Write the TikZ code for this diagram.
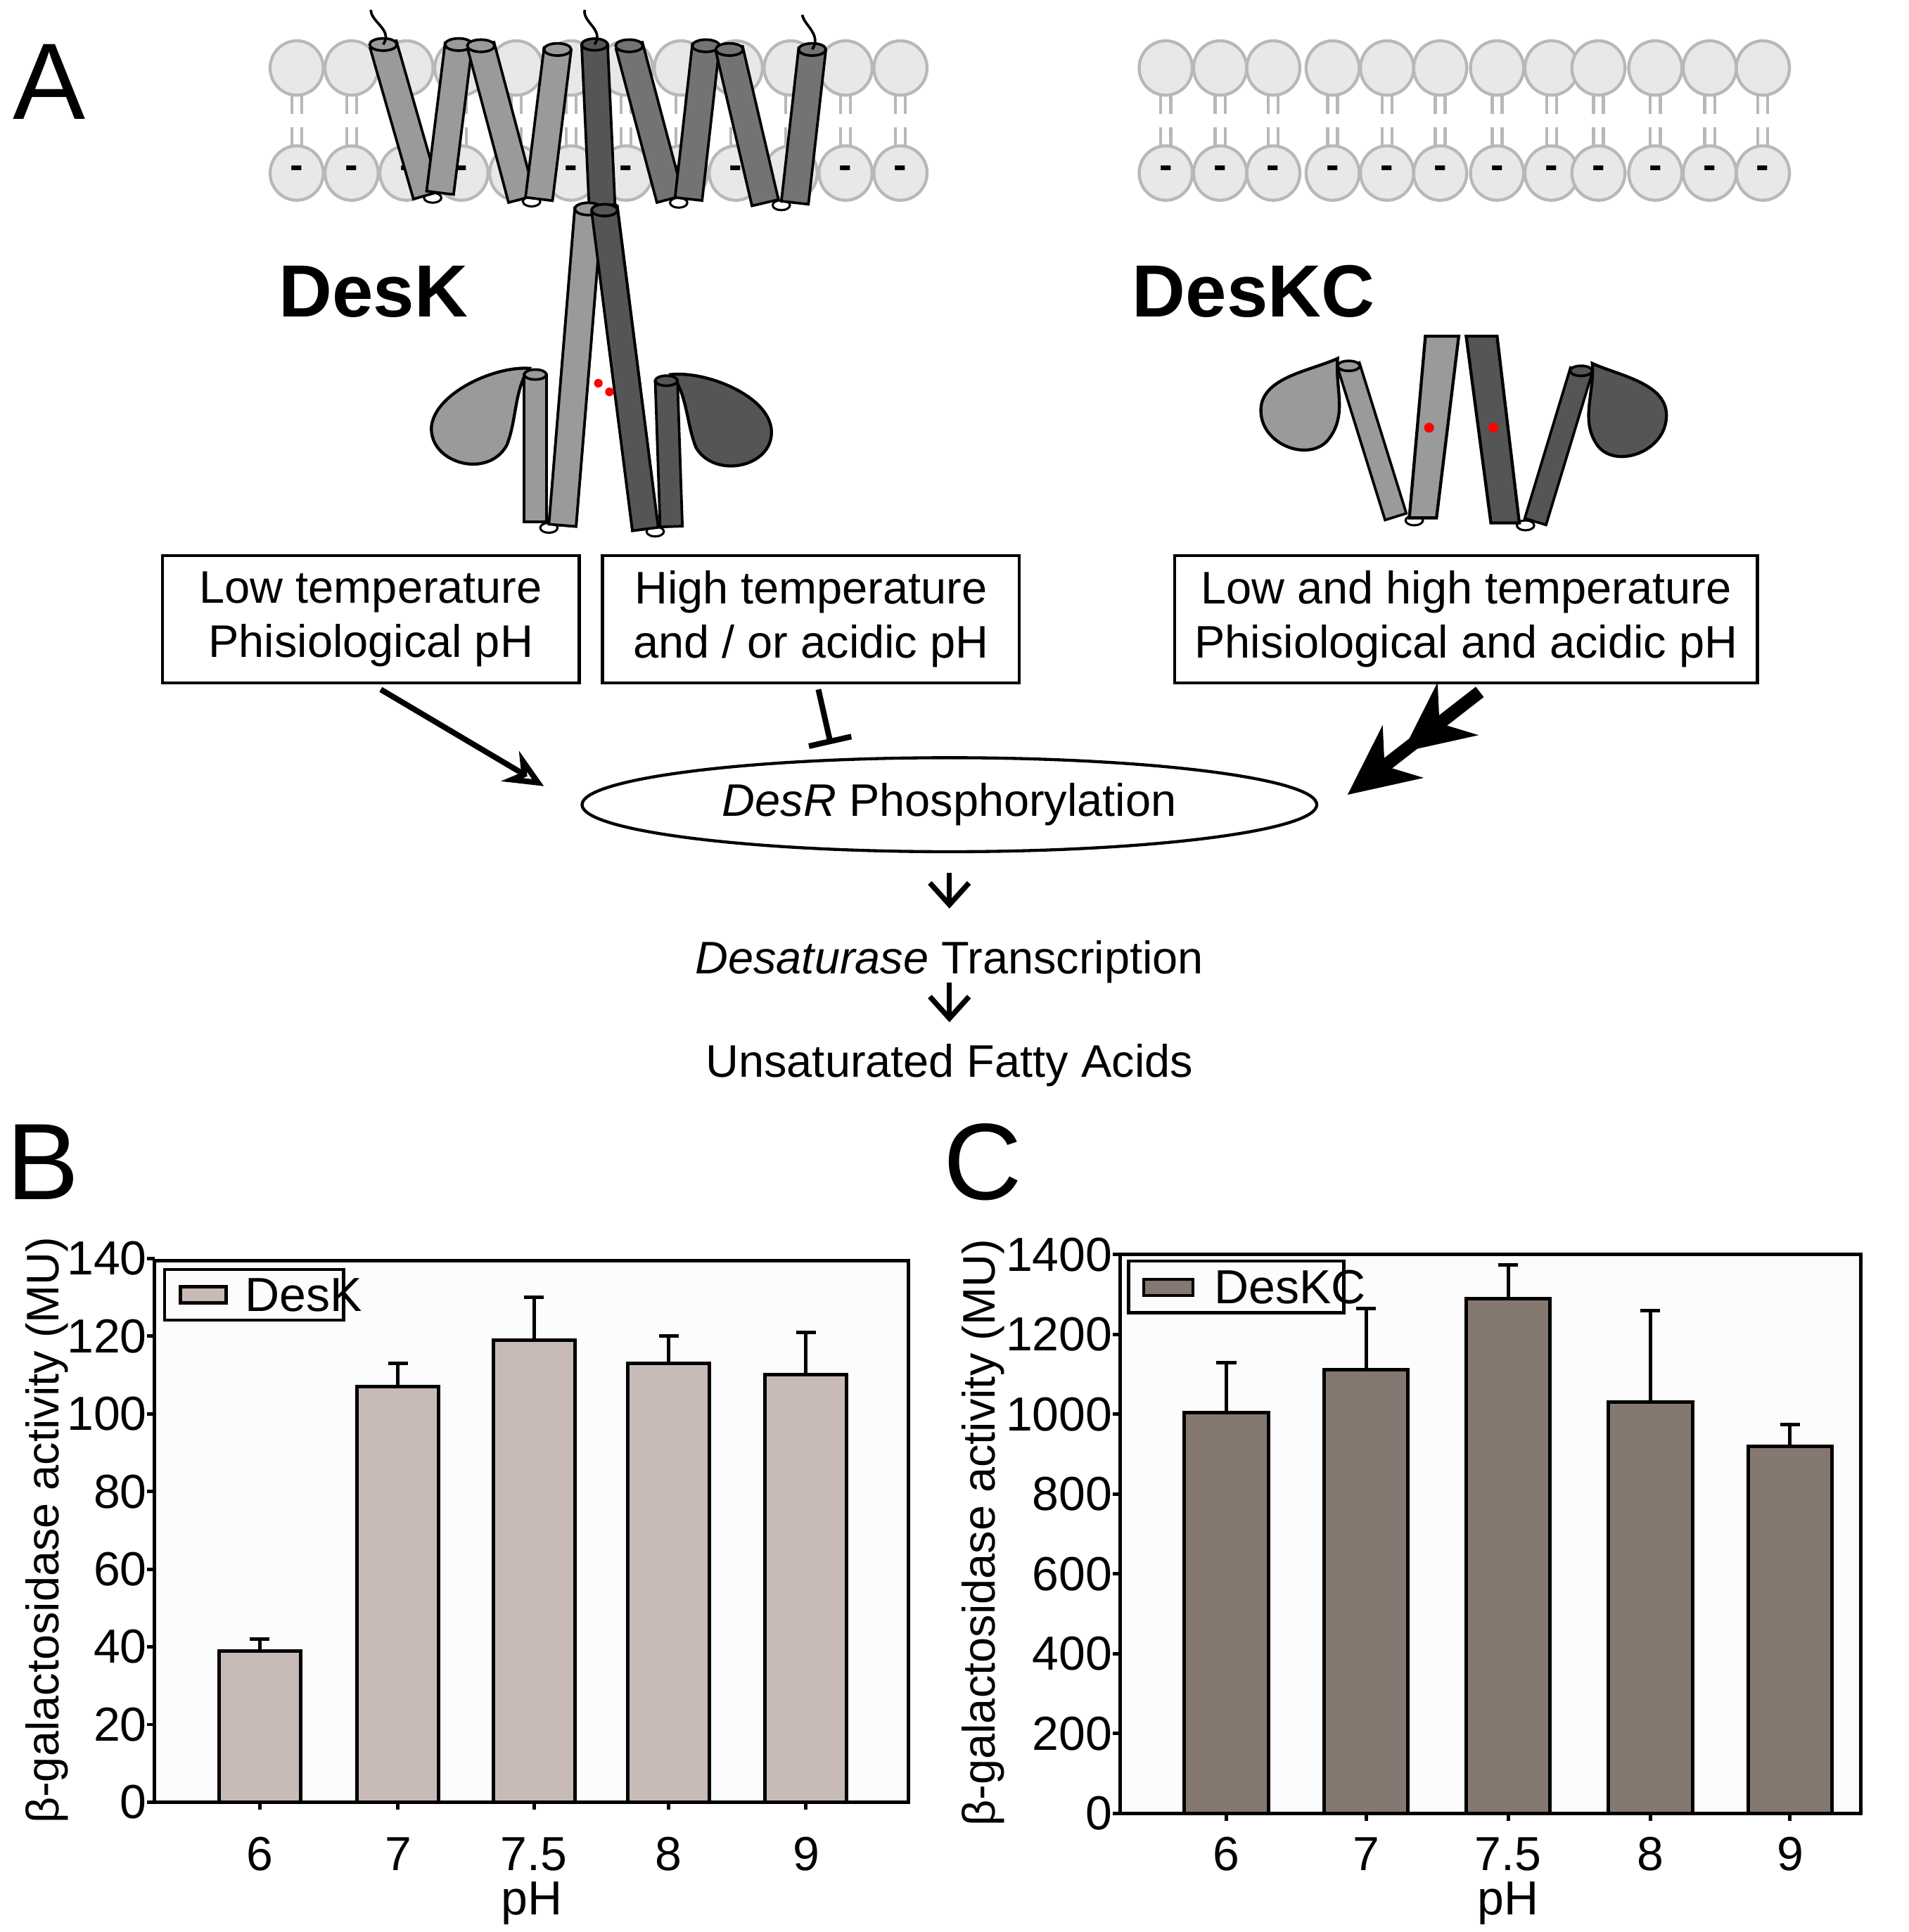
\documentclass[tikz,border=0pt]{standalone}
\usepackage{fontspec}
\setmainfont{Liberation Sans}
\usetikzlibrary{calc,arrows.meta,shapes.geometric}
\newcommand\hlx[6]{%
 \coordinate (hA) at (#1,#2); \coordinate (hB) at (#3,#4);
 \filldraw[fill=#6,draw=black,line width=0.6pt] ($(hA)!#5!90:(hB)$) -- ($(hA)!#5!-90:(hB)$) -- ($(hB)!#5!90:(hA)$) -- ($(hB)!#5!-90:(hA)$) -- cycle;
 \filldraw[fill=#6,draw=black,line width=0.6pt] (hA) ellipse [x radius=#5, y radius=0.45*#5];}
\newcommand\loopb[2]{\filldraw[fill=white,draw=black,line width=0.5pt] (#1,#2) ellipse [x radius=7, y radius=4];}
\definecolor{hl}{HTML}{9A9A9A}
\definecolor{hm}{HTML}{737373}
\definecolor{hd}{HTML}{555555}
\definecolor{barB}{HTML}{C8BAB6}
\definecolor{barC}{HTML}{857870}
\tikzset{lipidhead/.style={fill=black!9,draw=black!28,line width=0.7pt},
 lipidtail/.style={draw=black!28,line width=0.7pt},
 condbox/.style={draw=black,line width=0.7pt,minimum width=3.37cm,minimum height=1.03cm,align=center,font=\fontsize{10.5}{12.5}\selectfont,inner sep=1pt},
 flowtxt/.style={font=\fontsize{10.5}{12}\selectfont},
 panel/.style={font=\fontsize{25}{25}\selectfont},
 tick/.style={font=\fontsize{11}{11}\selectfont},
 arr/.style={line width=1.3pt,-{Stealth[length=9pt,width=8pt,open,fill=none]}}}
\begin{document}
\begin{tikzpicture}[x=0.01cm,y=-0.01cm]
\useasboundingbox (0,0) rectangle (1544,1563);
% panel letters
\node[panel] (pA) at (40,66) {A};
\node[panel] (pB) at (35,940) {B};
\node[panel] (pC) at (795,940) {C};
% membranes
\foreach \x in {240,284.4,...,730}{
 \draw[lipidtail] (\x-4,77)--(\x-4,92) (\x+4,77)--(\x+4,92) (\x-4,103)--(\x-4,118) (\x+4,103)--(\x+4,118);
 \filldraw[lipidhead] (\x,55) ellipse [x radius=21.5, y radius=22];
 \filldraw[lipidhead] (\x,140) ellipse [x radius=21.5, y radius=22];
 \node[font=\bfseries\fontsize{9}{9}\selectfont] at (\x,139) {-};}
\foreach \x in {943,987,1030,1078,1122,1165,1211,1255,1293,1339,1383,1426}{
 \draw[lipidtail] (\x-4,77)--(\x-4,92) (\x+4,77)--(\x+4,92) (\x-4,103)--(\x-4,118) (\x+4,103)--(\x+4,118);
 \filldraw[lipidhead] (\x,55) ellipse [x radius=21.5, y radius=22];
 \filldraw[lipidhead] (\x,140) ellipse [x radius=21.5, y radius=22];
 \node[font=\bfseries\fontsize{9}{9}\selectfont] at (\x,139) {-};}
% DesK helices
\loopb{350}{160}\loopb{430}{163}\loopb{549}{164}\loopb{632}{166}
\hlx{310}{36}{345}{158}{0.11cm}{hl}
\hlx{371}{36}{356}{156}{0.11cm}{hl}
\hlx{389}{37}{422}{161}{0.11cm}{hl}
\hlx{451}{40}{436}{161}{0.11cm}{hl}
\hlx{476}{169}{455}{425}{0.11cm}{hl}
\hlx{509}{37}{542}{161}{0.11cm}{hm}
\hlx{571}{37}{557}{161}{0.11cm}{hm}
\hlx{590}{40}{619}{164}{0.11cm}{hm}
\hlx{657}{40}{643}{164}{0.11cm}{hm}
\hlx{489}{168}{522}{428}{0.105cm}{hd}
\hlx{481}{36}{487}{166}{0.105cm}{hd}
\draw[line width=0.6pt] (310,36) .. controls (318,24) and (300,18) .. (300,8);
\draw[line width=0.6pt] (481,36) .. controls (489,24) and (471,18) .. (473,8);
\draw[line width=0.6pt] (657,40) .. controls (665,28) and (650,20) .. (649,12);
% DesK cytoplasmic
\filldraw[fill=hl,line width=0.7pt] (428,298) .. controls (400,296) and (352,318) .. (349,345) .. controls (347,375) and (395,388) .. (410,360) .. controls (418,340) and (416,315) .. cycle;
\filldraw[fill=hd,line width=0.7pt] (543,303) .. controls (571,300) and (622,320) .. (624,348) .. controls (626,378) and (578,388) .. (563,362) .. controls (555,342) and (556,318) .. cycle;
\loopb{444}{427}\loopb{530}{430}
\hlx{433}{303}{433}{422}{0.09cm}{hl}
\hlx{539}{308}{543}{426}{0.09cm}{hd}
\hlx{476}{169}{455}{425}{0.11cm}{hl}
\hlx{489}{170}{522}{428}{0.105cm}{hd}
\fill[red] (484,310) circle (3.5) (493,317) circle (3.5);
\node[font=\bfseries\fontsize{17}{17}\selectfont] (desk) at (302,236) {DesK};
% DesKC
\node[font=\bfseries\fontsize{17}{17}\selectfont] (deskc) at (1014,236) {DesKC};
\filldraw[fill=hl,line width=0.7pt] (1082,290) .. controls (1060,300) and (1022,305) .. (1020,330) .. controls (1018,360) and (1060,375) .. (1075,355) .. controls (1090,335) and (1080,315) .. cycle;
\filldraw[fill=hd,line width=0.7pt] (1288,294) .. controls (1310,304) and (1348,310) .. (1348,336) .. controls (1348,366) and (1306,380) .. (1292,360) .. controls (1278,340) and (1290,318) .. cycle;
\loopb{1144}{421}\loopb{1234}{425}
\hlx{1091}{296}{1129}{418}{0.09cm}{hl}
\hlx{1279}{300}{1242}{422}{0.09cm}{hd}
\filldraw[fill=hl,line width=0.7pt] (1153,272)--(1180,272)--(1162,419)--(1140,419)--cycle;
\filldraw[fill=hd,line width=0.7pt] (1186,272)--(1211,272)--(1229,423)--(1206,423)--cycle;
\fill[red] (1156,346) circle (4) (1208,346) circle (4);
% boxes
\node[condbox] (b1) at (300,501) {Low temperature\\Phisiological pH};
\node[condbox] (b2) at (656,501) {High temperature\\and / or acidic pH};
\node[condbox,minimum width=4.71cm] (b3) at (1186,501) {Low and high temperature\\Phisiological and acidic pH};
\node[draw,ellipse,line width=0.7pt,minimum width=5.94cm,minimum height=0.76cm,flowtxt,inner sep=0pt] (er) at (768,651) {\textit{DesR} Phosphorylation};
\draw[arr] ($(b1.south)+(8,4)$) -- (440,636);
\draw[line width=1.3pt,-{Bar[width=10pt]}] ($(b2.south)+(6,4)$) -- (672,602);
\draw[line width=3pt,-{Stealth[length=16pt,width=15pt]Stealth[length=16pt,width=15pt]}] ($(b3.south)+(11,6)$) -- (1090,643);
\node[flowtxt] (tr) at (768,778) {\textit{Desaturase} Transcription};
\node[flowtxt] (fa) at (768,862) {Unsaturated Fatty Acids};
\draw[line width=1.2pt,-{Straight Barb[length=5pt,width=9pt]}] (er.south) ++(0,16) -- (768,735);
\draw[line width=1.2pt,-{Straight Barb[length=5pt,width=9pt]}] (768,795) -- (768,827);
% chart B
\draw[line width=0.8pt,fill=black!1] (125,1020) rectangle (735,1458);
\foreach \v in {0,20,...,140}{
 \draw[line width=0.8pt] (119,{1458-\v/140*440}) -- (125,{1458-\v/140*440});
 \node[tick,anchor=east,inner sep=1pt] at (123,{1458-\v/140*440}) {\v};}
\foreach \c/\v/\e/\l in {210/39/42/6,322/107/113/7,432/119/130/7.5,541/113/120/8,652/110/121/9}{
 \draw[line width=0.8pt] (\c,{1458-\v/140*440}) -- (\c,{1458-\e/140*440}) (\c-8,{1458-\e/140*440}) -- (\c+8,{1458-\e/140*440});
 \filldraw[fill=barB,line width=0.8pt] (\c-33,1458) rectangle (\c+33,{1458-\v/140*440});
 \draw[line width=0.8pt] (\c,1458) -- (\c,1464);
 \node[tick] at (\c,1500) {\l};}
\node[tick] (phB) at (430,1540) {pH};
\node[font=\fontsize{10.5}{10.5}\selectfont,rotate=90] (ylB) at (38,1238) {β-galactosidase activity (MU)};
\draw[line width=0.7pt] (133,1027) rectangle (278,1068);
\filldraw[fill=barB,line width=0.7pt] (146,1041) rectangle (183,1054);
\node[tick,anchor=west] (lgB) at (186,1048) {DesK};
% chart C
\draw[line width=0.8pt,fill=black!1] (906,1015) rectangle (1505,1467);
\foreach \v in {0,200,...,1400}{
 \draw[line width=0.8pt] (900,{1467-\v/1400*452}) -- (906,{1467-\v/1400*452});
 \node[tick,anchor=east,inner sep=1pt] at (904,{1467-\v/1400*452}) {\v};}
\foreach \c/\v/\e/\l in {992/1005/1130/6,1105/1112/1265/7,1220/1290/1375/7.5,1335/1030/1260/8,1448/920/975/9}{
 \draw[line width=0.8pt] (\c,{1467-\v/1400*452}) -- (\c,{1467-\e/1400*452}) (\c-8,{1467-\e/1400*452}) -- (\c+8,{1467-\e/1400*452});
 \filldraw[fill=barC,line width=0.8pt] (\c-34,1467) rectangle (\c+34,{1467-\v/1400*452});
 \draw[line width=0.8pt] (\c,1467) -- (\c,1473);
 \node[tick] at (\c,1500) {\l};}
\node[tick] (phC) at (1220,1540) {pH};
\node[font=\fontsize{10.5}{10.5}\selectfont,rotate=90] (ylC) at (795,1240) {β-galactosidase activity (MU)};
\draw[line width=0.7pt] (913,1020) rectangle (1087,1062);
\filldraw[fill=barC,line width=0.7pt] (925,1035) rectangle (965,1048);
\node[tick,anchor=west] (lgC) at (970,1041) {DesKC};
\end{tikzpicture}
\end{document}
